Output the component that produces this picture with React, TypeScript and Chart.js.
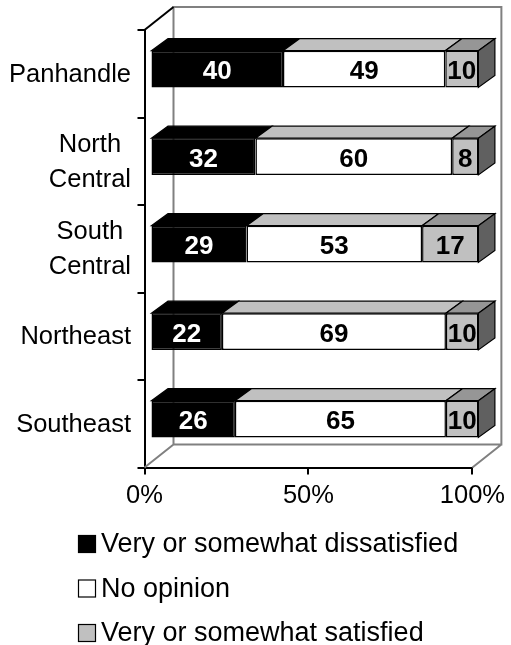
import React, { useEffect, useRef } from 'react';
import { Chart, registerables } from 'chart.js';

Chart.register(...registerables);

// ---- data ----
const categories: string[][] = [
  ['Panhandle'],
  ['North', 'Central'],
  ['South', 'Central'],
  ['Northeast'],
  ['Southeast'],
];
const seriesNames = [
  'Very or somewhat dissatisfied',
  'No opinion',
  'Very or somewhat satisfied',
];
const dissatisfied = [40, 32, 29, 22, 26];
const noOpinion = [49, 60, 53, 69, 65];
const satisfied = [10, 8, 17, 10, 10];
const xTickValues = [0, 50, 100];

// ---- styles ----
const FONT = '"Liberation Sans", Arial, sans-serif';
const frontColors = ['#000000', '#FFFFFF', '#C0C0C0'];
const topColors = ['#000000', '#C0C0C0', '#969696'];
const sideColor = '#606060';
const labelColors = ['#FFFFFF', '#000000', '#000000'];
const FRONT = { dx: 6, dy: -4.7 };
const DEPTH = { dx: 16.5, dy: -12 };
const WALL = { dx: 29, dy: -23 };

const raw = [dissatisfied, noOpinion, satisfied];
const totals = dissatisfied.map((v, i) => v + noOpinion[i] + satisfied[i]);

const threeD = {
  id: 'threeD',
  beforeDatasetsDraw(chart: any) {
    const { ctx, chartArea: a } = chart;
    ctx.save();
    ctx.lineWidth = 2;
    ctx.strokeStyle = '#808080';
    const bl = a.left + WALL.dx;
    const br = a.right + WALL.dx;
    const bt = a.top + WALL.dy;
    const bb = a.bottom + WALL.dy;
    ctx.beginPath();
    ctx.moveTo(bl, bb);
    ctx.lineTo(bl, bt);
    ctx.lineTo(br, bt);
    ctx.lineTo(br, bb);
    ctx.lineTo(bl, bb);
    ctx.moveTo(a.left, a.bottom);
    ctx.lineTo(bl, bb);
    ctx.moveTo(a.right, a.bottom);
    ctx.lineTo(br, bb);
    ctx.stroke();
    ctx.strokeStyle = '#000000';
    ctx.beginPath();
    ctx.moveTo(a.left, a.top);
    ctx.lineTo(bl, bt);
    ctx.stroke();
    ctx.restore();
    ctx.save();
    ctx.translate(FRONT.dx, FRONT.dy);
  },
  afterDatasetsDraw(chart: any) {
    const { ctx } = chart;
    const n = chart.data.datasets.length;
    chart.data.datasets.forEach((_ds: any, di: number) => {
      const meta = chart.getDatasetMeta(di);
      meta.data.forEach((bar: any) => {
        const p = bar.getProps(['x', 'y', 'base', 'height'], true);
        const l = Math.min(p.x, p.base);
        const r = Math.max(p.x, p.base);
        const t = p.y - p.height / 2;
        const b = p.y + p.height / 2;
        ctx.lineWidth = 1.2;
        ctx.strokeStyle = '#000000';
        ctx.beginPath();
        ctx.moveTo(l, t);
        ctx.lineTo(r, t);
        ctx.lineTo(r + DEPTH.dx, t + DEPTH.dy);
        ctx.lineTo(l + DEPTH.dx, t + DEPTH.dy);
        ctx.closePath();
        ctx.fillStyle = topColors[di];
        ctx.fill();
        ctx.stroke();
        if (di === n - 1) {
          ctx.beginPath();
          ctx.moveTo(r, t);
          ctx.lineTo(r + DEPTH.dx, t + DEPTH.dy);
          ctx.lineTo(r + DEPTH.dx, b + DEPTH.dy);
          ctx.lineTo(r, b);
          ctx.closePath();
          ctx.fillStyle = sideColor;
          ctx.fill();
          ctx.stroke();
        }
      });
    });
    // data labels
    ctx.font = 'bold 26px ' + FONT;
    ctx.textAlign = 'center';
    ctx.textBaseline = 'middle';
    chart.data.datasets.forEach((_ds: any, di: number) => {
      const meta = chart.getDatasetMeta(di);
      meta.data.forEach((bar: any, i: number) => {
        const p = bar.getProps(['x', 'y', 'base'], true);
        ctx.fillStyle = labelColors[di];
        ctx.fillText(String(raw[di][i]), (p.x + p.base) / 2, p.y + 3);
      });
    });
    ctx.restore();
  },
  afterDraw(chart: any) {
    const { ctx } = chart;
    const yScale = chart.scales.y;
    ctx.save();
    // category labels (each block right-aligned, lines centred within block)
    ctx.font = '25.5px ' + FONT;
    ctx.fillStyle = '#000000';
    ctx.textAlign = 'center';
    ctx.textBaseline = 'middle';
    const rightEdge = yScale.right - 13.5;
    const lineH = 35;
    categories.forEach((lines, i) => {
      const c = yScale.getPixelForTick(i);
      const w = Math.max(...lines.map((s) => ctx.measureText(s).width));
      const cx = rightEdge - w / 2;
      lines.forEach((s, k) => {
        ctx.fillText(s, cx, c + (k - (lines.length - 1) / 2) * lineH + 1);
      });
    });
    // legend
    ctx.font = '27px ' + FONT;
    ctx.textAlign = 'left';
    const legendX = 78;
    const legendY0 = 544;
    const legendStep = 44.5;
    chart.data.datasets.forEach((ds: any, di: number) => {
      const yc = legendY0 + di * legendStep;
      ctx.fillStyle = ds.backgroundColor;
      ctx.fillRect(legendX, yc - 9, 18, 18);
      ctx.lineWidth = 1.2;
      ctx.strokeStyle = '#000000';
      ctx.strokeRect(legendX + 0.5, yc - 8.5, 17, 17);
      ctx.fillStyle = '#000000';
      ctx.fillText(ds.label, legendX + 23, yc + 1);
    });
    ctx.restore();
  },
};

export default function App() {
  const ref = useRef<HTMLCanvasElement>(null);
  useEffect(() => {
    if (!ref.current) return;
    Chart.defaults.font.family = FONT;
    Chart.defaults.color = '#000000';
    const chart = new Chart(ref.current, {
      type: 'bar',
      data: {
        labels: categories,
        datasets: raw.map((vals, di) => ({
          label: seriesNames[di],
          data: vals.map((v, i) => (v / totals[i]) * 100),
          backgroundColor: frontColors[di],
          borderColor: '#000000',
          borderWidth: 1.5,
          borderSkipped: false,
          barPercentage: 0.42,
          categoryPercentage: 1,
          clip: false as any,
        })),
      },
      options: {
        indexAxis: 'y',
        responsive: false,
        animation: false,
        events: [],
        layout: { padding: { left: 0, top: 30, right: 36.5, bottom: 117.5 } },
        plugins: {
          legend: { display: false },
          tooltip: { enabled: false },
        },
        scales: {
          x: {
            stacked: true,
            min: 0,
            max: 100,
            afterBuildTicks: (scale: any) => {
              scale.ticks = xTickValues.map((v) => ({ value: v }));
            },
            afterFit: (scale: any) => {
              scale.height = 60;
            },
            ticks: {
              callback: (v: any) => v + '%',
              font: { size: 25.5, family: FONT },
              color: '#000000',
              padding: 6,
              maxRotation: 0,
            },
            grid: {
              drawOnChartArea: false,
              drawTicks: true,
              tickLength: 7,
              color: '#000000',
              lineWidth: 2,
            },
            border: { display: true, color: '#000000', width: 2 },
          },
          y: {
            stacked: true,
            afterFit: (scale: any) => {
              scale.width = 144.5;
            },
            ticks: { display: false },
            grid: {
              drawOnChartArea: false,
              drawTicks: true,
              tickLength: 7,
              color: '#000000',
              lineWidth: 2,
              offset: true,
            },
            border: { display: true, color: '#000000', width: 2 },
          },
        },
      },
      plugins: [threeD],
    });
    return () => chart.destroy();
  }, []);
  return (
    <div style={{ position: 'fixed', left: 0, top: 0, width: 511, height: 645, background: '#fff' }}>
      <canvas ref={ref} width={511} height={645} style={{ display: 'block' }} />
    </div>
  );
}
